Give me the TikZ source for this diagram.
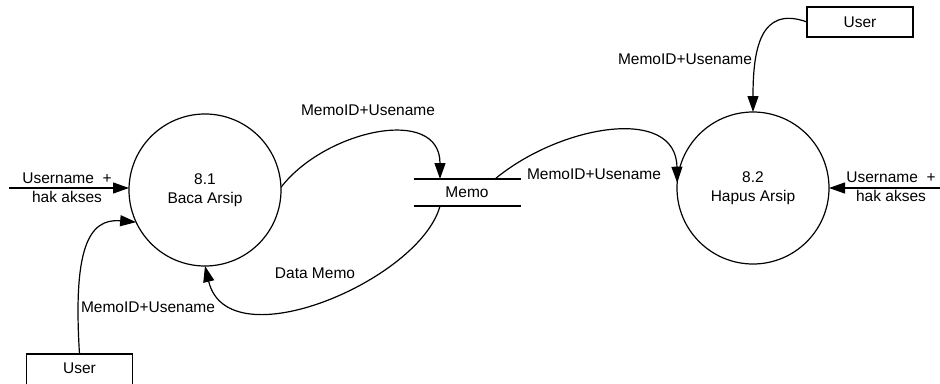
\documentclass[tikz,border=0pt]{standalone}
\usepackage{fontspec}
\setmainfont{Liberation Sans}
\usetikzlibrary{arrows.meta}
\begin{document}
\begin{tikzpicture}[x=1pt,y=-1pt,
  every node/.style={font=\fontsize{15.5}{19}\selectfont},
  proc/.style={circle,draw,line width=1.2pt,minimum size=152pt,inner sep=0pt,outer sep=0pt,align=center},
  ent/.style={rectangle,draw,line width=1.2pt,minimum width=106pt,minimum height=30pt,inner sep=0pt,outer sep=0pt},
  flow/.style={line width=1.2pt,-{Triangle[length=16pt,width=11pt]}},
  lbl/.style={inner sep=0pt,align=center}]
\useasboundingbox (0,0) rectangle (940,383);
\node[proc] (c1) at (205,190) {8.1\\Baca Arsip};
\node[proc] (c2) at (753,188) {8.2\\Hapus Arsip};
\node[minimum width=107pt,minimum height=27pt,inner sep=0pt,outer sep=0pt] (memo) at (467,192.5) {Memo};
\draw[line width=1.2pt] (memo.north west) -- (memo.north east);
\draw[line width=1.2pt] (memo.south west) -- (memo.south east);
\node[ent] (uT) at (860,22) {User};
\node[ent,minimum height=32pt] (uB) at (79.5,370) {};
\node[inner sep=0pt] (uBt) at (79.5,368) {User};
\coordinate (inL) at (9,188);
\coordinate (inR) at (940,188);
\coordinate (m1) at (440,179);
\coordinate (m2) at (440,206);
\coordinate (m3) at (495,179);
% flows
\draw[flow] (inL) -- (inL -| c1.west);
\draw[flow] (inR) -- (inR -| c2.east);
\draw[flow] (uB.north) .. controls (73,250) and (88,218) .. (c1.205);
\draw[flow] (c1.2) .. controls (325,130) and (440,105) .. (m1);
\draw[flow] (m2) .. controls (420,280) and (228,362) .. (c1.south);
\draw[flow] (m3) .. controls (560,125) and (676,105) .. (c2.176);
\draw[flow] (uT.west) .. controls (760,5) and (753,50) .. (c2.north);
% labels
\node[lbl] (lL) at (67,188) {Username\ \ +\\hak akses};
\node[lbl] (lR) at (891,187) {Username\ \ +\\hak akses};
\node[lbl] (l1) at (368,110) {MemoID+Usename};
\node[lbl] (l2) at (594,174) {MemoID+Usename};
\node[lbl] (l3) at (685,59) {MemoID+Usename};
\node[lbl] (l4) at (148,307) {MemoID+Usename};
\node[lbl] (l5) at (315,273) {Data Memo};
\end{tikzpicture}
\end{document}
